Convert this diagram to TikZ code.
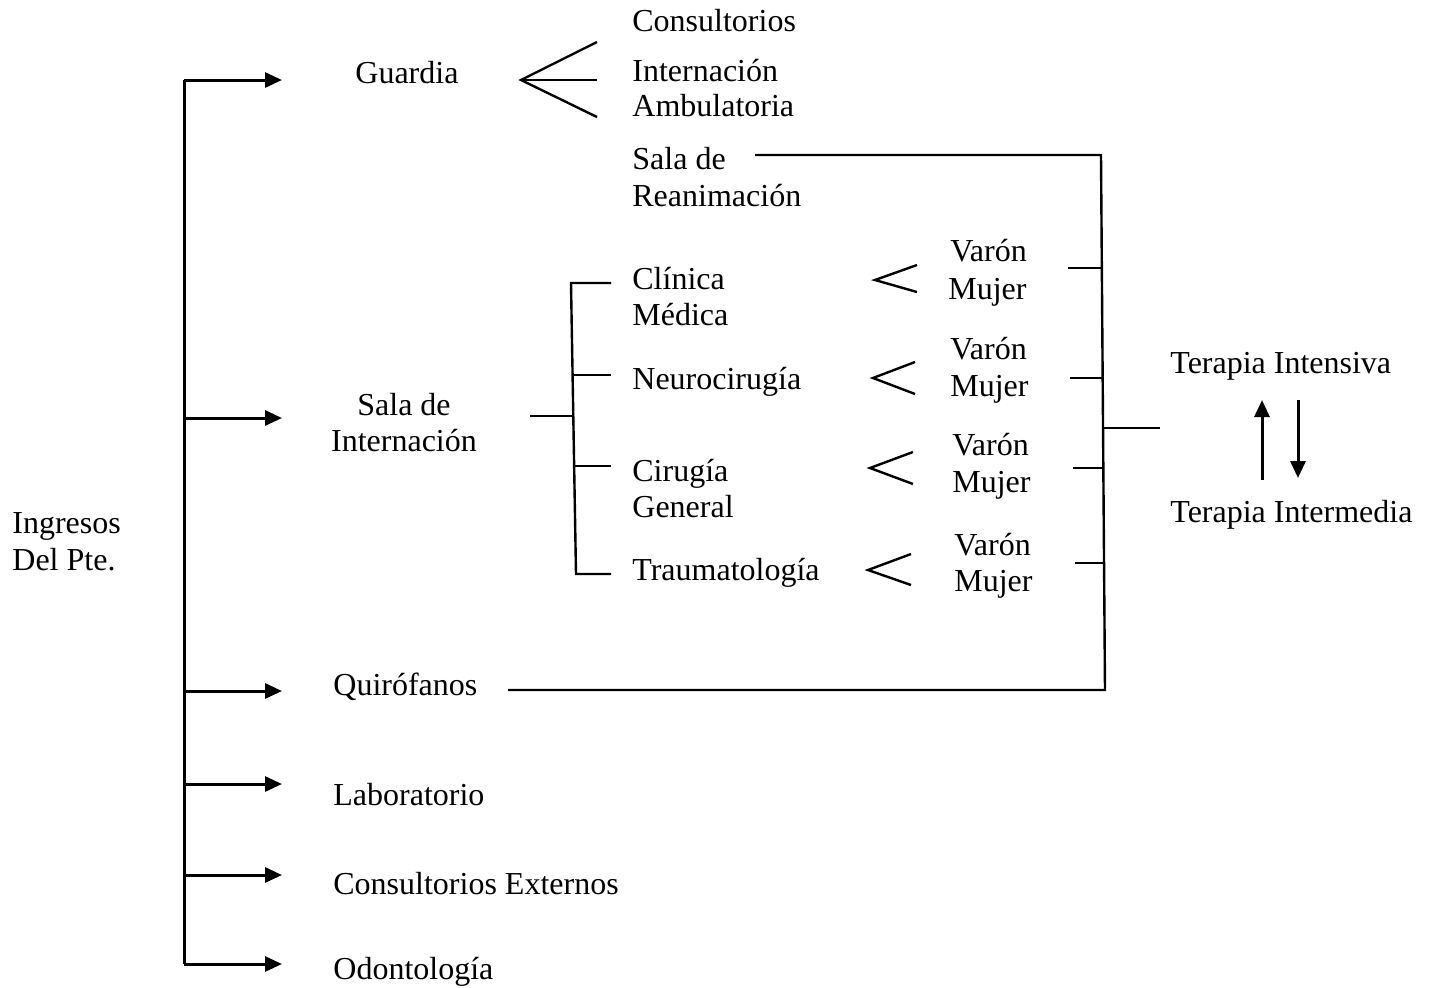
\documentclass[tikz,border=0pt]{standalone}
\usepackage{fontspec}
\setmainfont{Liberation Serif}
\usetikzlibrary{arrows.meta}
\begin{document}
\begin{tikzpicture}[x=0.5pt,y=-0.5pt,
  lbl/.style={anchor=base west, inner sep=0pt, font=\fontsize{16}{19}\selectfont},
  clbl/.style={anchor=base, inner sep=0pt, font=\fontsize{16}{19}\selectfont},
  ln/.style={line width=1.2pt},
  arr/.style={line width=1.5pt, -{Triangle[length=8.5pt,width=7.5pt]}}]
\useasboundingbox (0,0) rectangle (1432,987);

% ---- texts ----
\node[lbl] (ing1) at (12,533) {Ingresos};
\node[lbl] (ing2) at (12,570) {Del Pte.};
\node[lbl] (guardia) at (355,83) {Guardia};
\node[lbl] (cons) at (632,31) {Consultorios};
\node[lbl] (intA) at (632,81) {Internación};
\node[lbl] (intB) at (632,116) {Ambulatoria};
\node[lbl] (reanA) at (632,169) {Sala de};
\node[lbl] (reanB) at (632,206) {Reanimación};
\node[clbl] (salaA) at (404,415) {Sala de};
\node[clbl] (salaB) at (404,451) {Internación};
\node[lbl] (clinA) at (632,289) {Clínica};
\node[lbl] (clinB) at (632,325) {Médica};
\node[lbl] (neuro) at (632,389) {Neurocirugía};
\node[lbl] (cirA) at (632,481) {Cirugía};
\node[lbl] (cirB) at (632,517) {General};
\node[lbl] (trau) at (632,580) {Traumatología};
\node[lbl] (v1) at (950,261) {Varón};
\node[lbl] (m1) at (948,299) {Mujer};
\node[lbl] (v2) at (950,359) {Varón};
\node[lbl] (m2) at (950,396) {Mujer};
\node[lbl] (v3) at (952,455) {Varón};
\node[lbl] (m3) at (952,492) {Mujer};
\node[lbl] (v4) at (954,555) {Varón};
\node[lbl] (m4) at (954,591) {Mujer};
\node[lbl] (tint) at (1170,373) {Terapia Intensiva};
\node[lbl] (tmed) at (1170,522) {Terapia Intermedia};
\node[lbl] (quiro) at (333,695) {Quirófanos};
\node[lbl] (lab) at (333,805) {Laboratorio};
\node[lbl] (cext) at (333,894) {Consultorios Externos};
\node[lbl] (odon) at (333,979) {Odontología};

% ---- main trunk with arrows ----
\coordinate (t1) at (184,80);
\coordinate (t2) at (184,418);
\coordinate (t3) at (184,691);
\coordinate (t4) at (184,784);
\coordinate (t5) at (184,875);
\coordinate (t6) at (184,964);
\draw[line width=1.5pt] (t1) -- (t6);
\foreach \i in {1,...,6}{
  \draw[arr] (t\i) -- ++(98,0) coordinate (e\i);
}

% ---- Guardia fork ----
\coordinate (gA) at (521,80);
\draw[ln] (597,42) -- (gA) -- (597,117);
\draw[ln] (gA) -- (597,80);

% ---- Sala de Internacion bracket ----
\coordinate (sb) at (530,416);
\coordinate (bt) at (571,283);
\coordinate (bb) at (576,574);
\draw[ln] (sb) -- (573.5,416);
\draw[ln] (611,283) -- (bt) -- (bb) -- (611,574);
\draw[ln] (572.9,375) -- (611,375);
\draw[ln] (574.6,466) -- (611,466);

% ---- less-than forks ----
\draw[ln] (917,265) -- (875,280) -- (917,292);
\draw[ln] (915,362) -- (873,378) -- (915,394);
\draw[ln] (913,452) -- (870,468) -- (913,484);
\draw[ln] (911,554) -- (868,570) -- (911,585);

% ---- right collector ----
\coordinate (rt) at (1101,155);
\coordinate (rb) at (1105,690);
\coordinate (rs) at (755,155);
\coordinate (qs) at (508,690);
\draw[ln] (rs) -- (rt) -- (rb) -- (qs);
\draw[ln] (1068,268) -- (1101.8,268);
\draw[ln] (1070,378) -- (1102.7,378);
\draw[ln] (1073,468) -- (1103.4,468);
\draw[ln] (1075,563) -- (1104.1,563);
\draw[ln] (1103,428) -- (1160,428);

% ---- Terapia arrows ----
\coordinate (ua) at (1262,480);
\coordinate (ub) at (1262,400);
\coordinate (da) at (1298,400);
\coordinate (db) at (1298,478);
\draw[arr] (ua) -- (ub);
\draw[arr] (da) -- (db);
\end{tikzpicture}
\end{document}
